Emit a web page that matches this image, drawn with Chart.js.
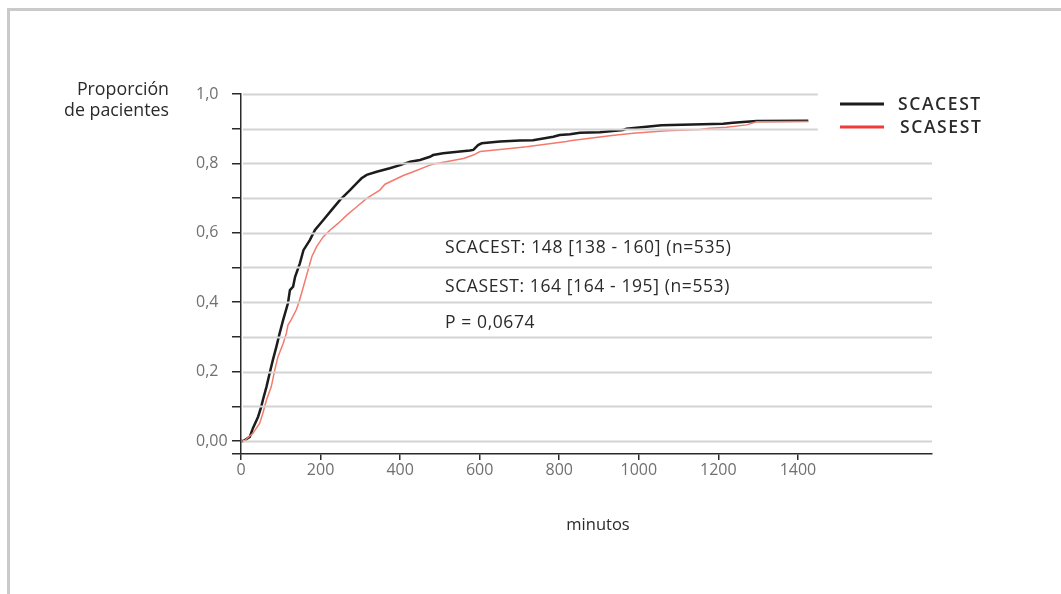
<!DOCTYPE html>
<html>
<head>
<meta charset="utf-8">
<script src="https://cdn.jsdelivr.net/npm/chart.js@4.4.1/dist/chart.umd.min.js"></script>
<style>
  html, body { margin:0; padding:0; background:#fff; width:1061px; height:594px; overflow:hidden; }
  #frame { position:absolute; left:7px; top:8px; width:1100px; height:700px; border-top:3px solid #cacaca; border-left:3px solid #cacaca; }
  #wrap { position:absolute; left:0; top:0; width:1061px; height:594px; }
</style>
</head>
<body>
<div id="frame"></div>
<div id="wrap"><canvas id="km" width="1061" height="594"></canvas></div>
<script>
// datos (minutos / proporcion acumulada)
var seriesNames = ['SCACEST', 'SCASEST'];

var timesScacest = [0, 6, 22, 30, 43, 51, 55, 64, 72, 80, 89, 97, 106, 118, 123, 131, 136, 148, 157, 173,
  186, 207, 228, 249, 274, 291, 303, 316, 341, 374, 400, 425, 450, 475, 483, 508, 575, 584, 596, 605,
  651, 701, 734, 785, 801, 827, 852, 902, 960, 969, 1057, 1212, 1237, 1296, 1426];
var propScacest = [0, 0, 0.012, 0.037, 0.07, 0.099, 0.118, 0.156, 0.195, 0.233, 0.272, 0.31, 0.349, 0.397, 0.435, 0.445, 0.473, 0.512, 0.55, 0.579,
  0.608, 0.637, 0.666, 0.695, 0.723, 0.743, 0.757, 0.767, 0.776, 0.786, 0.795, 0.805, 0.81, 0.819, 0.824, 0.829, 0.837, 0.839, 0.853, 0.858,
  0.863, 0.866, 0.867, 0.877, 0.882, 0.884, 0.888, 0.89, 0.896, 0.9, 0.91, 0.914, 0.917, 0.922, 0.923];

var timesScasest = [0, 8, 30, 47, 55, 64, 76, 85, 93, 106, 114, 118, 126, 139, 147, 157, 165, 178, 190, 207,
  224, 244, 266, 291, 316, 349, 362, 408, 433, 475, 492, 559, 584, 601, 676, 718, 818, 827, 927, 944,
  986, 1053, 1070, 1153, 1178, 1220, 1271, 1296, 1426];
var propScasest = [0, 0, 0.022, 0.051, 0.08, 0.118, 0.156, 0.205, 0.243, 0.281, 0.31, 0.334, 0.349, 0.378, 0.405, 0.445, 0.478, 0.531, 0.56, 0.589,
  0.608, 0.627, 0.651, 0.675, 0.699, 0.723, 0.74, 0.765, 0.776, 0.795, 0.8, 0.814, 0.824, 0.834, 0.843, 0.848, 0.863, 0.865, 0.88, 0.882,
  0.887, 0.893, 0.894, 0.898, 0.901, 0.904, 0.911, 0.92, 0.921];

var xTicks = [0, 200, 400, 600, 800, 1000, 1200, 1400];
var yTicks = [0, 0.1, 0.2, 0.3, 0.4, 0.5, 0.6, 0.7, 0.8, 0.9, 1.0];
var yLabelValues = [0, 0.2, 0.4, 0.6, 0.8, 1.0];
var yLabelText = ['0,00', '0,2', '0,4', '0,6', '0,8', '1,0'];

var yTitle = ['Proporción', 'de pacientes'];
var xTitle = 'minutos';
var notes = ['SCACEST: 148 [138 - 160] (n=535)', 'SCASEST: 164 [164 - 195] (n=553)', 'P = 0,0674'];

var lineColors = ['#1c1c1c', '#f47a6e'];
var legendColors = ['#1c1c1c', '#ef3b3b'];
var FONT = '"Open Sans", "Noto Sans", sans-serif';

function toPoints(xs, ys){
    var pts = [];
    for (var i = 0; i < xs.length; i++) {
        pts.push({x: xs[i], y: ys[i]});
    }
    return pts;
}

// lineas de la rejilla encima de las curvas, como en el original
var gridOverPlugin = {
    id: 'gridOver',
    afterDatasetsDraw: function(chart) {
        var ctx = chart.ctx;
        var y = chart.scales.y;
        var x = chart.scales.x;
        var area = chart.chartArea;
        ctx.save();
        ctx.strokeStyle = '#d3d3d3';
        ctx.lineWidth = 2;
        for (var i = 0; i < yTicks.length; i++) {
            var py = Math.round(y.getPixelForValue(yTicks[i])) + 0.5;
            var endX = yTicks[i] >= 0.9 ? x.getPixelForValue(1450) : area.right;
            ctx.beginPath();
            ctx.moveTo(area.left + 2, py);
            ctx.lineTo(endX, py);
            ctx.stroke();
        }
        ctx.restore();
    }
};

var textPlugin = {
    id: 'texts',
    afterDraw: function(chart) {
        var ctx = chart.ctx;
        ctx.save();
        ctx.fillStyle = '#2a2a2a';
        ctx.textBaseline = 'middle';

        // titulo del eje y
        ctx.font = '17.8px ' + FONT;
        ctx.textAlign = 'right';
        ctx.fillText(yTitle[0], 169, 90);
        ctx.fillText(yTitle[1], 169, 111);

        // titulo del eje x
        ctx.textAlign = 'center';
        ctx.font = '16.5px ' + FONT;
        ctx.fillText(xTitle, 598, 525);

        // anotaciones
        ctx.textAlign = 'left';
        ctx.font = '17.5px ' + FONT;
        ctx.letterSpacing = '0.6px';
        ctx.fillText(notes[0], 445, 248);
        ctx.fillText(notes[1], 445, 287);
        ctx.fillText(notes[2], 445, 323);

        // leyenda
        var legendY = [104, 127];
        var textX = [898, 900];
        ctx.font = '600 17.5px ' + FONT;
        ctx.letterSpacing = '1.6px';
        for (var i = 0; i < seriesNames.length; i++) {
            ctx.strokeStyle = legendColors[i];
            ctx.lineWidth = 3;
            ctx.beginPath();
            ctx.moveTo(840, legendY[i]);
            ctx.lineTo(884, legendY[i]);
            ctx.stroke();
            ctx.fillStyle = '#2a2a2a';
            ctx.fillText(seriesNames[i], textX[i], legendY[i] + 1);
        }
        ctx.restore();
    }
};

var ctx = document.getElementById('km').getContext('2d');
var myChart = new Chart(ctx, {
    type: 'line',
    data: {
        datasets: [{
            label: seriesNames[1],
            data: toPoints(timesScasest, propScasest),
            borderColor: lineColors[1],
            borderWidth: 1.5,
            pointRadius: 0,
            tension: 0,
            fill: false
        }, {
            label: seriesNames[0],
            data: toPoints(timesScacest, propScacest),
            borderColor: lineColors[0],
            borderWidth: 2.5,
            pointRadius: 0,
            tension: 0,
            fill: false
        }]
    },
    options: {
        responsive: false,
        animation: false,
        devicePixelRatio: 1,
        layout: { padding: { left: 196, top: 94, right: 129, bottom: 0 } },
        plugins: {
            legend: { display: false },
            tooltip: { enabled: false }
        },
        scales: {
            x: {
                type: 'linear',
                min: 0,
                max: 1737,
                afterBuildTicks: function(scale) {
                    scale.ticks = xTicks.map(function(v){ return {value: v}; });
                },
                afterFit: function(scale) { scale.height = 140; },
                border: { display: true, color: '#2a2a2a', width: 1.5 },
                grid: { drawOnChartArea: false, drawTicks: true, tickLength: 6, color: '#2a2a2a', lineWidth: 1.5 },
                ticks: {
                    color: '#707070',
                    font: { family: FONT, size: 16 },
                    padding: 1,
                    maxRotation: 0,
                    autoSkip: false,
                    callback: function(v) { return String(v); }
                }
            },
            y: {
                type: 'linear',
                min: -0.0375,
                max: 1.0,
                afterBuildTicks: function(scale) {
                    var t = [{value: -0.0375}];
                    for (var i = 0; i < yTicks.length; i++) t.push({value: yTicks[i]});
                    scale.ticks = t;
                },
                afterFit: function(scale) { scale.width = 45; },
                border: { display: true, color: '#2a2a2a', width: 1.5 },
                grid: { drawOnChartArea: false, drawTicks: true, tickLength: 9, color: '#2a2a2a', lineWidth: 1.5 },
                ticks: {
                    color: '#707070',
                    font: { family: FONT, size: 16 },
                    padding: 6,
                    crossAlign: 'far',
                    autoSkip: false,
                    callback: function(v) {
                        for (var i = 0; i < yLabelValues.length; i++) {
                            if (Math.abs(v - yLabelValues[i]) < 1e-6) return yLabelText[i];
                        }
                        return '';
                    }
                }
            }
        }
    },
    plugins: [gridOverPlugin, textPlugin]
});
</script>
</body>
</html>
